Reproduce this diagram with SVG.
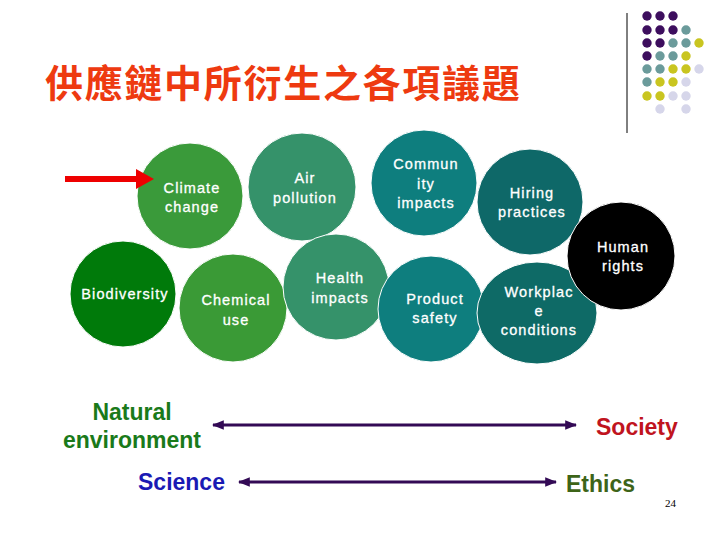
<svg xmlns="http://www.w3.org/2000/svg" width="720" height="540" viewBox="0 0 720 540">
<style>
.ct{font-family:"Liberation Sans",Arial,sans-serif;font-size:14.5px;fill:#fff;text-anchor:middle;letter-spacing:1.1px;stroke:#fff;stroke-width:0.3px}
.bt{font-family:"Liberation Sans",Arial,sans-serif;font-size:23px;font-weight:bold}
.c{stroke:#fff;stroke-width:1}
.ar{stroke:#330a55;stroke-width:3;fill:none;marker-start:url(#ah);marker-end:url(#ah)}
</style>
<defs>
<marker id="ah" viewBox="0 0 10 10" refX="9" refY="5" markerWidth="4" markerHeight="4" orient="auto-start-reverse" markerUnits="strokeWidth"><path d="M0,1 L10,5 L0,9 Z" fill="#330a55"/></marker>
</defs>
<rect width="720" height="540" fill="#fff"/>
<g id="decor">
<line x1="627" y1="13" x2="627" y2="133" stroke="#000" stroke-width="1"/>
<g fill="#3d0e5e"><circle cx="647" cy="16" r="4.7"/><circle cx="660" cy="16" r="4.7"/><circle cx="673" cy="16" r="4.7"/><circle cx="647" cy="30" r="4.7"/><circle cx="660" cy="30" r="4.7"/><circle cx="673" cy="30" r="4.7"/><circle cx="647" cy="43" r="4.7"/><circle cx="660" cy="43" r="4.7"/><circle cx="647" cy="56" r="4.7"/></g>
<g fill="#6b9b9b"><circle cx="686" cy="30" r="4.7"/><circle cx="673" cy="43" r="4.7"/><circle cx="686" cy="43" r="4.7"/><circle cx="660" cy="56" r="4.7"/><circle cx="673" cy="56" r="4.7"/><circle cx="647" cy="69" r="4.7"/><circle cx="660" cy="69" r="4.7"/><circle cx="647" cy="82" r="4.7"/></g>
<g fill="#c9c520"><circle cx="699" cy="43" r="4.7"/><circle cx="686" cy="56" r="4.7"/><circle cx="673" cy="69" r="4.7"/><circle cx="686" cy="69" r="4.7"/><circle cx="660" cy="82" r="4.7"/><circle cx="673" cy="82" r="4.7"/><circle cx="647" cy="96" r="4.7"/><circle cx="660" cy="96" r="4.7"/></g>
<g fill="#d6d6ea"><circle cx="699" cy="69" r="4.7"/><circle cx="686" cy="82" r="4.7"/><circle cx="673" cy="96" r="4.7"/><circle cx="686" cy="96" r="4.7"/><circle cx="660" cy="109" r="4.7"/><circle cx="686" cy="109" r="4.7"/></g>
</g>
<text x="45" y="97" font-family="'Noto Sans CJK TC','Noto Sans CJK SC',sans-serif" font-size="38" font-weight="bold" fill="#ee3a10" letter-spacing="1.7">供應鏈中所衍生之各項議題</text>
<g id="climate"><circle class="c" cx="190" cy="196" r="53" fill="#3a9a3a"/><text class="ct" x="192" y="193">Climate</text><text class="ct" x="192" y="212">change</text></g>
<g id="air"><circle class="c" cx="302" cy="187" r="54" fill="#35926a"/><text class="ct" x="305" y="183">Air</text><text class="ct" x="305" y="203">pollution</text></g>
<g id="biodiversity"><circle class="c" cx="123" cy="294" r="53" fill="#007a0a"/><text class="ct" x="125" y="299">Biodiversity</text></g>
<g id="chemical"><circle class="c" cx="233" cy="308" r="54" fill="#3a9a36"/><text class="ct" x="236" y="305">Chemical</text><text class="ct" x="236" y="325">use</text></g>
<g id="health"><circle class="c" cx="336" cy="287" r="53" fill="#35926a"/><text class="ct" x="340" y="283">Health</text><text class="ct" x="340" y="303">impacts</text></g>
<g id="community"><circle class="c" cx="424" cy="183" r="53" fill="#0e7e7e"/><text class="ct" x="426" y="169">Commun</text><text class="ct" x="426" y="189">ity</text><text class="ct" x="426" y="208">impacts</text></g>
<g id="hiring"><circle class="c" cx="530" cy="202" r="53" fill="#0e6868"/><text class="ct" x="532" y="198">Hiring</text><text class="ct" x="532" y="217">practices</text></g>
<g id="product"><circle class="c" cx="431" cy="309" r="53" fill="#0e7e7e"/><text class="ct" x="435" y="304">Product</text><text class="ct" x="435" y="323">safety</text></g>
<g id="workplace"><ellipse class="c" cx="537" cy="313" rx="60" ry="51" fill="#0e6a66"/><text class="ct" x="539" y="297">Workplac</text><text class="ct" x="539" y="316">e</text><text class="ct" x="539" y="335">conditions</text></g>
<g id="human"><circle class="c" cx="621" cy="256" r="54" fill="#000"/><text class="ct" x="623" y="252">Human</text><text class="ct" x="623" y="271">rights</text></g>
<g id="pointer"><rect x="65" y="176" width="73" height="6" fill="#ee0000"/><polygon points="136,169 154,179 136,189" fill="#ee0000"/></g>
<g id="labels">
<text class="bt" x="132" y="420" text-anchor="middle" fill="#1a7a1a">Natural</text>
<text class="bt" x="132" y="448" text-anchor="middle" fill="#1a7a1a">environment</text>
<text class="bt" x="596" y="435" fill="#c0141e">Society</text>
<text class="bt" x="138" y="490" fill="#1a1ab4">Science</text>
<text class="bt" x="566" y="492" fill="#3d6418">Ethics</text>
<text x="665" y="507" font-family="'Liberation Serif','Times New Roman',serif" font-size="11" fill="#000">24</text>
</g>
<g id="connectors">
<line class="ar" x1="213" y1="425" x2="576" y2="425"/>
<line class="ar" x1="239" y1="482" x2="556" y2="482"/>
</g>
</svg>
